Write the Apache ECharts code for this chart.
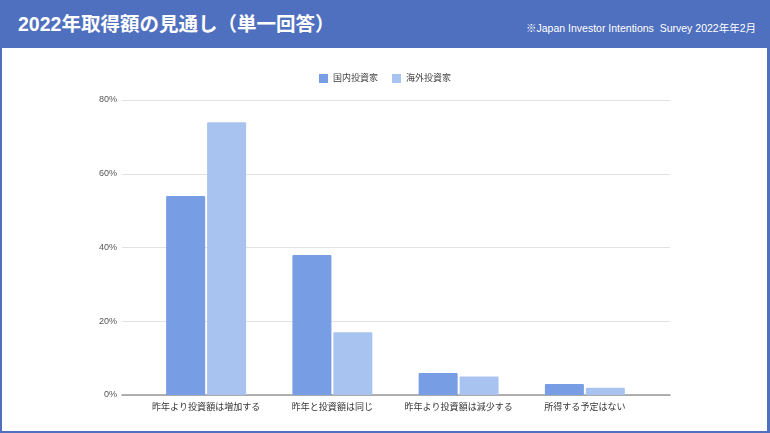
<!DOCTYPE html>
<html>
<head>
<meta charset="utf-8">
<script src="https://cdn.jsdelivr.net/npm/echarts@6/dist/echarts.min.js"></script>
<style>
  html, body { margin: 0; padding: 0; }
  body { width: 770px; height: 433px; background: #4f70be; position: relative; overflow: hidden;
         font-family: "Liberation Sans", "Noto Sans CJK JP", sans-serif; }
  #title { position: absolute; left: 18px; top: 8px; color: #fff; font-size: 19.5px; font-weight: bold; }
  #note { position: absolute; right: 14px; top: 20px; color: #fff; font-size: 10.5px; }
  #panel { position: absolute; left: 2px; top: 48px; width: 765px; height: 383px; background: #fff; }
  #main { position: absolute; left: 0; top: 0; width: 770px; height: 433px; }
</style>
</head>
<body>
<div id="title">2022年取得額の見通し（単一回答）</div>
<div id="note">※Japan Investor Intentions&nbsp; Survey 2022年年2月</div>
<div id="panel"></div>
<div id="main"></div>
<script>
var categories = ['昨年より投資額は増加する', '昨年と投資額は同じ', '昨年より投資額は減少する', '所得する予定はない'];
var domestic = [54, 38, 6, 3];
var overseas = [74, 17, 5, 2];
var yTicks = [0, 20, 40, 60, 80];

var myChart = echarts.init(document.getElementById('main'), null, { renderer: 'canvas' });

var labelFont = '"Liberation Sans", "Noto Sans CJK JP", sans-serif';

myChart.setOption({
  backgroundColor: 'transparent',
  animation: false,
  legend: {
    top: 69,
    left: 'center',
    itemWidth: 9,
    itemHeight: 9,
    itemGap: 14,
    icon: 'rect',
    textStyle: { fontSize: 9, color: '#444', fontFamily: labelFont },
    data: ['国内投資家', '海外投資家']
  },
  grid: [
    // bars
    { left: 143, right: 122, top: 100, bottom: 38 },
    // gridlines & axis line (wider)
    { left: 122, right: 100, top: 100, bottom: 38 }
  ],
  xAxis: [
    {
      type: 'category', gridIndex: 0, data: categories,
      axisLine: { show: false }, axisTick: { show: false },
      axisLabel: { fontSize: 9, color: '#333', margin: 8, fontFamily: labelFont, interval: 0 }
    },
    {
      type: 'category', gridIndex: 1, data: ['a'],
      axisLine: { show: true, lineStyle: { color: '#999', width: 1.5 } },
      axisTick: { show: false }, axisLabel: { show: false }
    }
  ],
  yAxis: [
    {
      type: 'value', gridIndex: 0, min: yTicks[0], max: yTicks[yTicks.length - 1], interval: 20,
      show: false, splitLine: { show: false }
    },
    {
      type: 'value', gridIndex: 1, min: yTicks[0], max: yTicks[yTicks.length - 1], interval: 20,
      axisLine: { show: false }, axisTick: { show: false },
      axisLabel: { fontSize: 9, color: '#555', margin: 5, formatter: '{value}%', fontFamily: labelFont },
      splitLine: { lineStyle: { color: '#e2e2e2' } }
    }
  ],
  series: [
    {
      name: '国内投資家', type: 'bar', xAxisIndex: 0, yAxisIndex: 0,
      data: domestic, barWidth: 39, barGap: '5%',
      itemStyle: { color: '#779de4', borderRadius: [1, 1, 0, 0] }
    },
    {
      name: '海外投資家', type: 'bar', xAxisIndex: 0, yAxisIndex: 0,
      data: overseas, barWidth: 39, barGap: '5%',
      itemStyle: { color: '#a9c3f1', borderRadius: [1, 1, 0, 0] }
    }
  ]
});
</script>
</body>
</html>
